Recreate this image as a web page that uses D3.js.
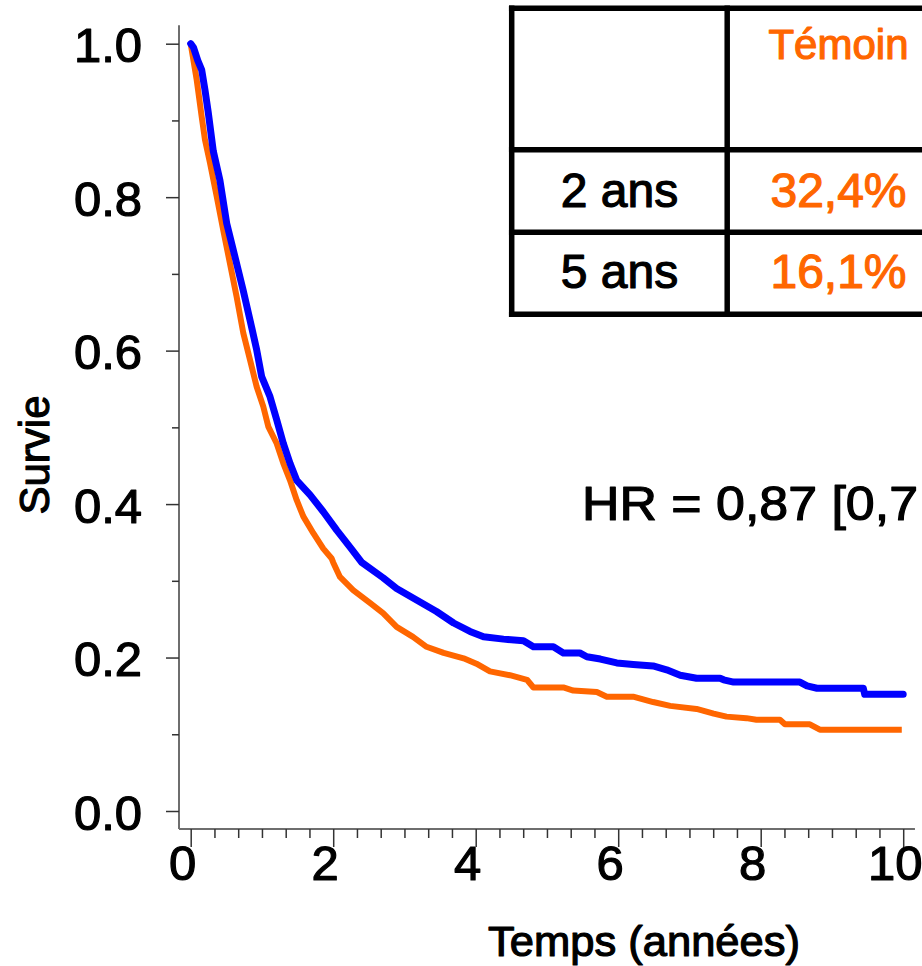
<!DOCTYPE html>
<html>
<head>
<meta charset="utf-8">
<script src="https://cdn.jsdelivr.net/npm/d3@7"></script>
<style>
  html, body { margin: 0; padding: 0; background: #fff; }
  svg { display: block; font-family: "Liberation Sans", Arial, Helvetica, sans-serif; }
  svg text { paint-order: stroke; stroke-linejoin: round; }
</style>
</head>
<body>
<svg id="chart" width="922" height="966"></svg>
<script>
// Kaplan–Meier survival estimates: [time in years, survival probability]
const experimental = [
  [0, 1.0], [0.04, 0.995], [0.10, 0.978], [0.154, 0.966], [0.20, 0.94],
  [0.247, 0.910], [0.317, 0.860], [0.41, 0.822], [0.505, 0.766], [0.622, 0.722],
  [0.738, 0.678], [0.832, 0.640], [0.926, 0.601], [0.996, 0.566], [1.113, 0.540],
  [1.207, 0.510], [1.300, 0.479], [1.394, 0.453], [1.488, 0.431], [1.675, 0.412],
  [1.861, 0.390], [2.049, 0.366], [2.236, 0.344], [2.40, 0.324], [2.70, 0.304],
  [2.89, 0.290], [3.17, 0.275], [3.45, 0.260], [3.69, 0.245], [3.92, 0.234],
  [4.11, 0.227], [4.39, 0.224], [4.67, 0.222], [4.74, 0.218], [4.81, 0.214],
  [5.09, 0.214], [5.23, 0.206], [5.46, 0.206], [5.56, 0.201], [5.75, 0.198],
  [5.98, 0.193], [6.21, 0.191], [6.49, 0.189], [6.68, 0.184], [6.87, 0.177],
  [7.10, 0.173], [7.43, 0.173], [7.48, 0.171], [7.62, 0.168], [8.55, 0.168],
  [8.65, 0.163], [8.79, 0.160], [9.44, 0.160], [9.46, 0.152], [10.0, 0.152]
];

const control = [
  [0, 1.0], [0.014, 0.992], [0.084, 0.953], [0.154, 0.905], [0.20, 0.875],
  [0.27, 0.845], [0.365, 0.801], [0.457, 0.757], [0.55, 0.714], [0.645, 0.670],
  [0.738, 0.623], [0.832, 0.588], [0.926, 0.553], [1.019, 0.527], [1.089, 0.501],
  [1.207, 0.479], [1.300, 0.453], [1.394, 0.431], [1.488, 0.405], [1.580, 0.384],
  [1.721, 0.362], [1.861, 0.342], [1.979, 0.329], [2.0, 0.324], [2.095, 0.305],
  [2.28, 0.288], [2.52, 0.271], [2.70, 0.258], [2.89, 0.240], [3.12, 0.227],
  [3.31, 0.214], [3.55, 0.206], [3.83, 0.199], [4.01, 0.192], [4.20, 0.182],
  [4.48, 0.177], [4.72, 0.171], [4.81, 0.161], [5.23, 0.161], [5.37, 0.157],
  [5.70, 0.155], [5.84, 0.149], [6.21, 0.149], [6.49, 0.142], [6.73, 0.137],
  [7.10, 0.133], [7.34, 0.127], [7.52, 0.123], [7.80, 0.121], [7.94, 0.119],
  [8.27, 0.119], [8.34, 0.113], [8.69, 0.113], [8.83, 0.106], [9.98, 0.106]
];

// Axis ticks
const yMajorTicks = [0, 0.2, 0.4, 0.6, 0.8, 1.0];
const yMinorTicks = [0.1, 0.3, 0.5, 0.7, 0.9];
const xMajorTicks = [0, 2, 4, 6, 8, 10];
const xMinorTicks = d3.range(0, 31).map(i => i / 3).filter(v => Math.abs(v - Math.round(v / 2) * 2) > 1e-6);

// Survival table
const tableRows = ["2 ans", "5 ans"];
const controlRates = ["32,4%", "16,1%"];
const controlLabel = "Témoin";
const hazardText = "HR = 0,87 [0,7";

const colors = { experimental: "#0000ff", control: "#ff6600" };

const svg = d3.select("#chart");

const x = d3.scaleLinear().domain([0, 10]).range([190.7, 903.2]);
const y = d3.scaleLinear().domain([0, 1]).range([811, 43.7]);

const axisX0 = 179, axisY0 = 829;

// Slightly heavier glyphs for all labels
const heavy = (sel, color) => sel.attr("fill", color).attr("stroke", color).attr("stroke-width", 1.2);

// Axis lines
svg.append("line")
  .attr("x1", axisX0).attr("x2", axisX0)
  .attr("y1", y(1.024)).attr("y2", axisY0)
  .attr("stroke", "#6e6e6e").attr("stroke-width", 2);
svg.append("line")
  .attr("x1", axisX0).attr("x2", x(10.165))
  .attr("y1", axisY0).attr("y2", axisY0)
  .attr("stroke", "#6e6e6e").attr("stroke-width", 2);

// Y ticks
const yAxisMajor = d3.axisLeft(y).tickValues(yMajorTicks).tickSize(13).tickPadding(0).tickFormat(d3.format(".1f"));
const gy = svg.append("g").attr("transform", `translate(${axisX0},0)`).call(yAxisMajor);
gy.select(".domain").remove();
gy.selectAll(".tick line").attr("stroke", "#333").attr("stroke-width", 1.5);
gy.selectAll(".tick text")
  .attr("x", -37).attr("dy", null).attr("y", 18)
  .attr("font-size", 49)
  .attr("font-family", "Liberation Sans, Arial, sans-serif")
  .call(heavy, "#000");

const yAxisMinor = d3.axisLeft(y).tickValues(yMinorTicks).tickSize(7).tickFormat("");
const gym = svg.append("g").attr("transform", `translate(${axisX0},0)`).call(yAxisMinor);
gym.select(".domain").remove();
gym.selectAll(".tick line").attr("stroke", "#333").attr("stroke-width", 1.5);

// X ticks
const xAxisMajor = d3.axisBottom(x).tickValues(xMajorTicks).tickSize(18).tickPadding(0).tickFormat(d3.format("d"));
const gx = svg.append("g").attr("transform", `translate(0,${axisY0})`).call(xAxisMajor);
gx.select(".domain").remove();
gx.selectAll(".tick line").attr("stroke", "#333").attr("stroke-width", 1.5);
gx.selectAll(".tick text")
  .attr("y", 51).attr("dy", null).attr("x", -8.5)
  .attr("font-size", 49)
  .attr("font-family", "Liberation Sans, Arial, sans-serif")
  .call(heavy, "#000");

const xAxisMinor = d3.axisBottom(x).tickValues(xMinorTicks).tickSize(9).tickFormat("");
const gxm = svg.append("g").attr("transform", `translate(0,${axisY0})`).call(xAxisMinor);
gxm.select(".domain").remove();
gxm.selectAll(".tick line").attr("stroke", "#333").attr("stroke-width", 1.5);

// Axis titles
svg.append("text")
  .attr("x", 644).attr("y", 956)
  .attr("text-anchor", "middle").attr("font-size", 43)
  .attr("textLength", 312).attr("lengthAdjust", "spacingAndGlyphs")
  .call(heavy, "#000")
  .text("Temps (années)");
svg.append("text")
  .attr("transform", "translate(49,455) rotate(-90)")
  .attr("text-anchor", "middle").attr("font-size", 42)
  .call(heavy, "#000")
  .text("Survie");

// Survival curves
const line = d3.line().x(d => x(d[0])).y(d => y(d[1])).curve(d3.curveLinear);

svg.append("path").datum(control)
  .attr("d", line).attr("fill", "none")
  .attr("stroke", colors.control).attr("stroke-width", 6)
  .attr("stroke-linejoin", "round");

svg.append("path").datum(experimental)
  .attr("d", line).attr("fill", "none")
  .attr("stroke", colors.experimental).attr("stroke-width", 7)
  .attr("stroke-linejoin", "round").attr("stroke-linecap", "round");

// Survival rate table
const table = svg.append("g");
const tb = { left: 511.7, divider: 727.2, right: 1000, top: 8.2, row1: 149.7, row2: 232.2, bottom: 314.2 };
const tableLine = (x1, y1, x2, y2) => table.append("line")
  .attr("x1", x1).attr("y1", y1).attr("x2", x2).attr("y2", y2)
  .attr("stroke", "#000").attr("stroke-width", 5.5).attr("stroke-linecap", "square");
tableLine(tb.left, tb.top, tb.right, tb.top);
tableLine(tb.left, tb.row1, tb.right, tb.row1);
tableLine(tb.left, tb.row2, tb.right, tb.row2);
tableLine(tb.left, tb.bottom, tb.right, tb.bottom);
tableLine(tb.left, tb.top, tb.left, tb.bottom);
tableLine(tb.divider, tb.top, tb.divider, tb.bottom);

const col1 = (tb.left + tb.divider) / 2;
const col2 = 838.5;
table.append("text")
  .attr("x", col2).attr("y", 59)
  .attr("text-anchor", "middle").attr("font-size", 42)
  .call(heavy, colors.control)
  .text(controlLabel);

const rowBaselines = [207, 288];
tableRows.forEach((label, i) => {
  table.append("text")
    .attr("x", col1).attr("y", rowBaselines[i])
    .attr("text-anchor", "middle").attr("font-size", 48)
    .call(heavy, "#000")
    .text(label);
  table.append("text")
    .attr("x", col2).attr("y", rowBaselines[i])
    .attr("text-anchor", "middle").attr("font-size", 48)
    .call(heavy, colors.control)
    .text(controlRates[i]);
});

// Hazard ratio annotation
svg.append("text")
  .attr("x", 582).attr("y", 520)
  .attr("font-size", 48)
  .attr("textLength", 336).attr("lengthAdjust", "spacingAndGlyphs")
  .call(heavy, "#000")
  .text(hazardText);
</script>
</body>
</html>
